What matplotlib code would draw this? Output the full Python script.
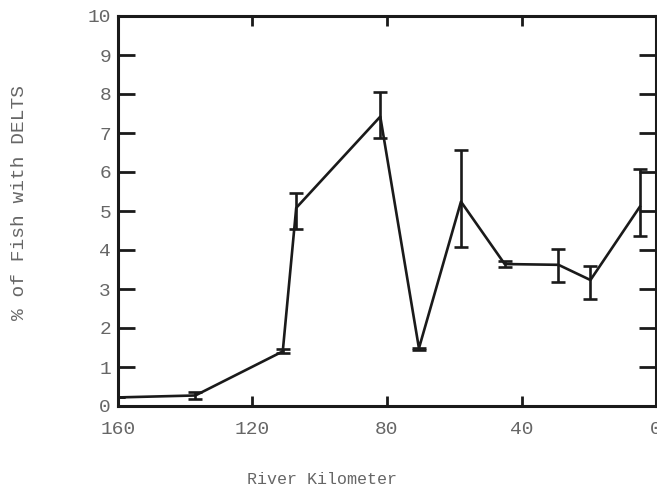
import matplotlib
matplotlib.use("Agg")
import matplotlib.pyplot as plt
import numpy as np

# Data
river_km = [160, 137, 111, 107, 82, 70.5, 58, 45, 29, 19.5, 4.8]
pct_delts = [0.22, 0.27, 1.40, 5.08, 7.42, 1.48, 5.24, 3.64, 3.62, 3.23, 5.11]
err_low = [0.0, 0.10, 0.05, 0.55, 0.56, 0.05, 1.17, 0.08, 0.45, 0.49, 0.75]
err_high = [0.0, 0.10, 0.05, 0.39, 0.64, 0.0, 1.32, 0.08, 0.40, 0.36, 0.96]
x_ticks = [160, 120, 80, 40, 0]
y_ticks = list(range(0, 11))

font = "Liberation Mono"
text_color = "#666666"

fig = plt.figure(figsize=(6.57, 4.91), dpi=100)
ax = fig.add_axes([118 / 657, 85 / 491, 538 / 657, 390 / 491])

ax.errorbar(river_km, pct_delts, yerr=[err_low, err_high], color="#1a1a1a",
            lw=1.9, elinewidth=1.9, capsize=5, capthick=1.9, zorder=3)

ax.set_xlim(160, 0)
ax.set_ylim(0, 10)
ax.set_xticks(x_ticks)
ax.set_yticks(y_ticks)

for s in ax.spines.values():
    s.set_linewidth(2.2)
    s.set_color("#1a1a1a")

ax.tick_params(axis="x", direction="in", length=7, width=2, top=True, bottom=True,
               pad=11, labelsize=14, labelcolor=text_color, color="#1a1a1a")
ax.tick_params(axis="y", direction="in", length=12, width=2, left=True, right=True,
               pad=5, labelsize=14, labelcolor=text_color, color="#1a1a1a")
for lab in ax.get_xticklabels() + ax.get_yticklabels():
    lab.set_fontfamily(font)

fig.text(20 / 657, 1 - 203 / 491, "% of Fish with DELTS", fontfamily=font,
         fontsize=14, color=text_color, ha="center", va="center", rotation=90)
fig.text(322 / 657, 1 - 480 / 491, "River Kilometer", fontfamily=font,
         fontsize=12, color=text_color, ha="center", va="center")

fig.savefig("out.png", dpi=100)
